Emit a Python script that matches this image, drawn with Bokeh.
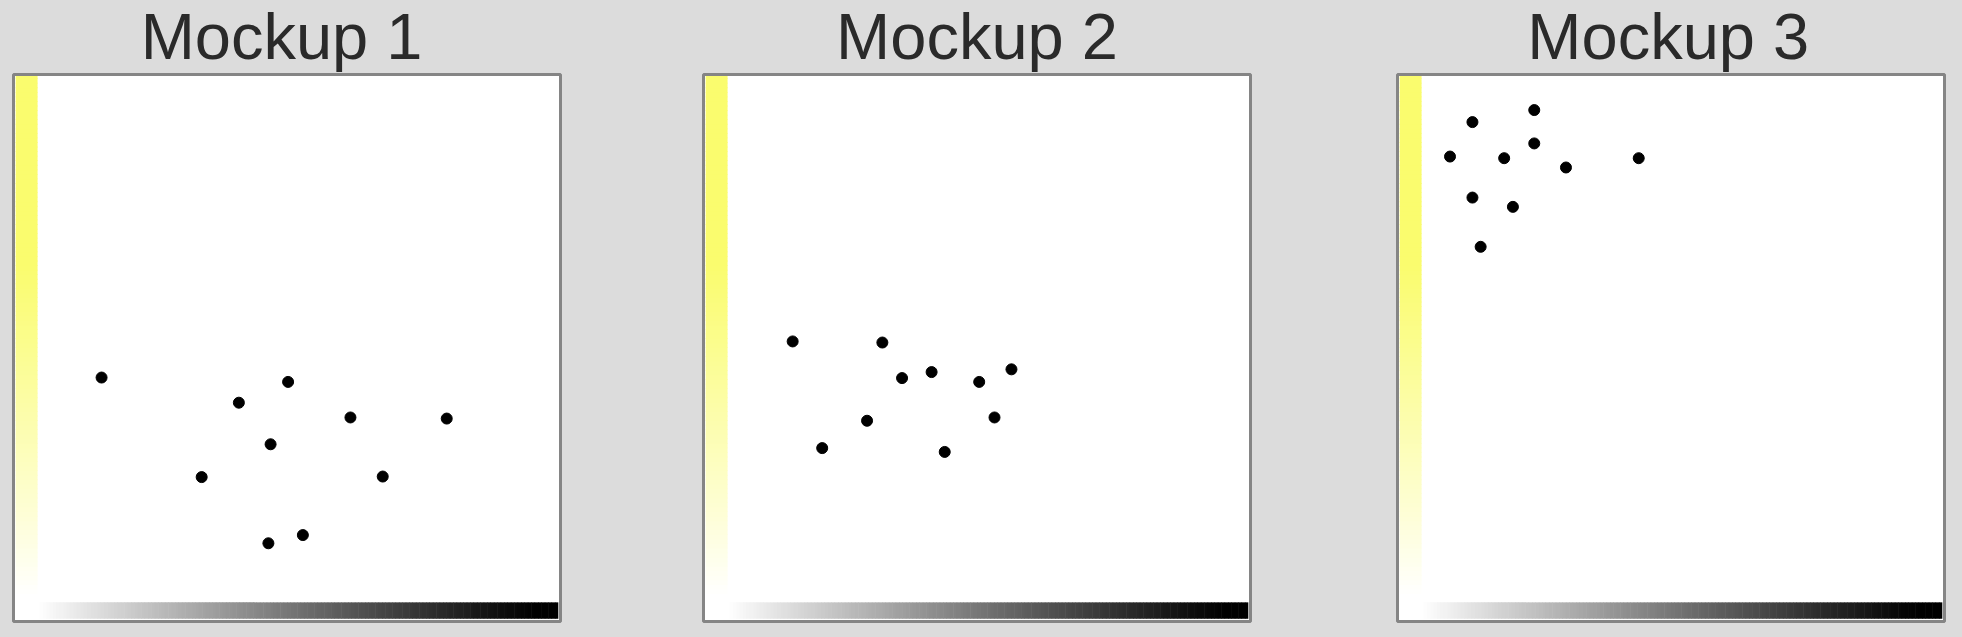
import numpy as np
from bokeh.plotting import figure
from bokeh.layouts import row
from bokeh.models import Range1d
from bokeh.core.properties import value
from bokeh.embed import file_html
from bokeh.resources import INLINE

# ---- data (x, y in 0-100 panel units) ----
titles = ["Mockup 1", "Mockup 2", "Mockup 3"]

m1_x = [16.1, 50.2, 41.2, 61.6, 79.2, 47.0, 34.4, 67.5, 46.6, 52.9]
m1_y = [44.6, 43.8, 40.0, 37.3, 37.1, 32.4, 26.4, 26.5, 14.3, 15.8]

m2_x = [16.3, 32.7, 36.3, 41.7, 50.4, 56.3, 29.9, 53.2, 21.7, 44.1]
m2_y = [51.2, 51.0, 44.5, 45.6, 43.8, 46.1, 36.7, 37.3, 31.7, 31.0]

m3_x = [13.7, 25.0, 25.0, 9.6, 19.5, 30.8, 44.1, 13.7, 21.1, 15.2]
m3_y = [91.3, 93.5, 87.4, 85.0, 84.7, 83.0, 84.7, 77.5, 75.8, 68.5]

series = [(m1_x, m1_y), (m2_x, m2_y), (m3_x, m3_y)]

BG = "#dcdcdc"
H = 637
BOX = 547.0          # box size in px
U = BOX / 100.0      # px per unit
BOX_TOP = 74         # page y of the box top
BOX_BOTTOM = BOX_TOP + BOX
# (figure width, box left offset inside figure)
geom = [(630, 13), (690, 73), (638, 77)]
title_x = [49.0, 50.0, 49.5]


def hexcol(r, g, b):
    return "#%02x%02x%02x" % (int(round(r)), int(round(g)), int(round(b)))


def make_panel(i):
    W, bl = geom[i]
    p = figure(width=W, height=H,
               x_range=Range1d(-bl / U, (W - bl) / U),
               y_range=Range1d(-(H - BOX_BOTTOM) / U, BOX_BOTTOM / U),
               output_backend="svg", toolbar_location=None,
               x_axis_location=None, y_axis_location=None,
               min_border=0)
    p.grid.visible = False
    p.background_fill_color = BG
    p.border_fill_color = BG
    p.outline_line_color = None

    # panel box
    p.quad(left=[0], right=[100], bottom=[0], top=[100],
           fill_color="white", line_color=None)

    # yellow vertical gradient strip on the left
    n = 120
    edges = np.linspace(0, 100, n + 1)
    l, r, b, t, cols = [], [], [], [], []
    for k in range(n):
        yn = (edges[k] + edges[k + 1]) / 200.0
        f = min(max((yn - 0.05) / 0.6, 0.0), 1.0)
        f = f ** 0.9
        cols.append(hexcol(255 - 5 * f, 255 - 3 * f, 255 - (255 - 110) * f))
        l.append(0.4); r.append(4.4)
        b.append(edges[k]); t.append(min(edges[k + 1] + 0.15, 100))
    p.quad(left=l, right=r, bottom=b, top=t, fill_color=cols, line_color=None)

    # horizontal white->black gradient strip at the bottom
    n = 160
    edges = np.linspace(0.4, 99.6, n + 1)
    l, r, b, t, cols = [], [], [], [], []
    for k in range(n):
        xn = ((edges[k] + edges[k + 1]) / 2 - 0.4) / 99.2
        g = 1.0 - min(max((xn - 0.04) / 0.92, 0.0), 1.0)
        g = g ** 1.1
        cols.append(hexcol(255 * g, 255 * g, 255 * g))
        l.append(edges[k]); r.append(min(edges[k + 1] + 0.1, 99.6))
        b.append(0.5); t.append(3.5)
    p.quad(left=l, right=r, bottom=b, top=t, fill_color=cols, line_color=None)

    # box border
    p.quad(left=[0], right=[100], bottom=[0], top=[100],
           fill_color=None, line_color="#858585", line_width=3)

    xs, ys = series[i]
    p.scatter(xs, ys, size=11, fill_color="black", line_color="black")

    p.text(x=[title_x[i]], y=[106.9], text=[titles[i]],
           text_align="center", text_baseline="alphabetic",
           text_font=value("Liberation Sans"), text_font_size="65px",
           text_color="#2a2a2a")
    return p


layout = row(*[make_panel(i) for i in range(3)], spacing=0)

html = file_html(layout, INLINE)
html = html.replace("</head>",
                    "<style>html, body { background-color: %s; }</style></head>" % BG, 1)
open("out.html", "w").write(html)
